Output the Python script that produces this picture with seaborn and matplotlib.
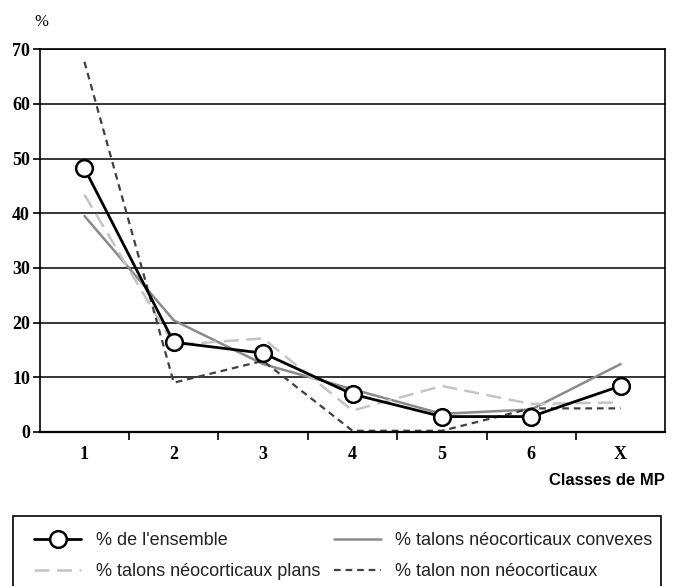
import matplotlib
matplotlib.use("Agg")
import matplotlib.pyplot as plt
import seaborn as sns
from matplotlib.lines import Line2D
from matplotlib.patches import Rectangle

categories = ["1", "2", "3", "4", "5", "6", "X"]
ensemble = [48.2, 16.4, 14.4, 6.9, 2.8, 2.8, 8.4]
convexes = [39.5, 20.4, 12.4, 7.8, 3.3, 4.1, 12.4]
plans = [43.4, 15.9, 17.1, 3.9, 8.4, 5.1, 5.4]
non_neo = [67.7, 9.0, 13.0, 0.2, 0.2, 4.3, 4.3]

labels = ["% de l'ensemble", "% talons néocorticaux convexes",
          "% talons néocorticaux plans", "% talon non néocorticaux"]

sns.set_theme(style="white")
plt.rcParams['font.family'] = ['Liberation Sans', 'DejaVu Sans']

fig = plt.figure(figsize=(6.74, 5.86), dpi=100)
ax = fig.add_axes([0.059, 0.263, 0.928, 0.653])

pos = list(range(len(categories)))

sns.lineplot(x=pos, y=convexes, ax=ax, color="#8a8a8a", lw=1.8, sort=False)
sns.lineplot(x=pos, y=plans, ax=ax, color="#c4c4c4", lw=1.8, sort=False)
ax.lines[-1].set_dashes((6, 3))
sns.lineplot(x=pos, y=non_neo, ax=ax, color="#404040", lw=1.6, sort=False)
ax.lines[-1].set_dashes((3, 2.2))
sns.lineplot(x=pos, y=ensemble, ax=ax, color="black", lw=2.0, sort=False,
             marker="o", markersize=12, markerfacecolor="white",
             markeredgecolor="black", markeredgewidth=1.8)

ax.set_xlim(-0.5, 6.5)
ax.set_ylim(0, 70)
ax.set_yticks(range(0, 80, 10))
for y in range(10, 80, 10):
    ax.axhline(y, color="black", lw=1.1, zorder=0)
ax.set_xticks(pos)
ax.set_xticklabels(categories)
ax.set_xticks([p + 0.5 for p in pos[:-1]], minor=True)
ax.tick_params(axis="x", which="major", length=0, pad=10)
ax.tick_params(axis="x", which="minor", length=6, width=1.2, color="black",
               direction="out", bottom=True)
ax.tick_params(axis="y", length=5, width=1.2, color="black", direction="out",
               left=True, pad=2)
for lab in ax.get_xticklabels() + ax.get_yticklabels():
    lab.set_fontfamily("Liberation Serif")
    lab.set_fontweight("bold")
    lab.set_fontsize(13)
    lab.set_color("black")

for s in ["left", "bottom", "right", "top"]:
    ax.spines[s].set_visible(True)
    ax.spines[s].set_color("black")
    ax.spines[s].set_linewidth(1.2)
ax.spines["bottom"].set_linewidth(1.6)

fig.text(0.062, 0.963, "%", fontfamily="Liberation Serif", fontsize=12,
         ha="center", va="center", color="black")
fig.text(0.987, 0.18, "Classes de MP", fontsize=12, fontweight="bold",
         ha="right", va="center", color="black")

# legend frame (extends below the figure edge as in the reference)
fig.patches.append(Rectangle((0.019, -0.02), 0.961, 0.139,
                             transform=fig.transFigure, fill=False,
                             edgecolor="black", lw=1.2))

h_ens = Line2D([], [], color="black", lw=2.0, marker="o", markersize=12,
               markerfacecolor="white", markeredgecolor="black",
               markeredgewidth=1.8)
h_conv = Line2D([], [], color="#8a8a8a", lw=1.8)
h_plans = Line2D([], [], color="#c4c4c4", lw=1.8, dashes=(6, 3))
h_non = Line2D([], [], color="#404040", lw=1.6, dashes=(3, 2.2))

leg = fig.legend([h_ens, h_plans, h_conv, h_non],
                 [labels[0], labels[2], labels[1], labels[3]],
                 ncol=2, loc="upper left", mode="expand",
                 bbox_to_anchor=(0.032, -0.1, 0.955, 0.213),
                 frameon=False, fontsize=13,
                 handlelength=2.6, borderpad=0.7, labelspacing=0.75,
                 handletextpad=0.8, borderaxespad=0)
for t in leg.get_texts():
    t.set_color("#222222")

fig.savefig("out.png", dpi=100)
